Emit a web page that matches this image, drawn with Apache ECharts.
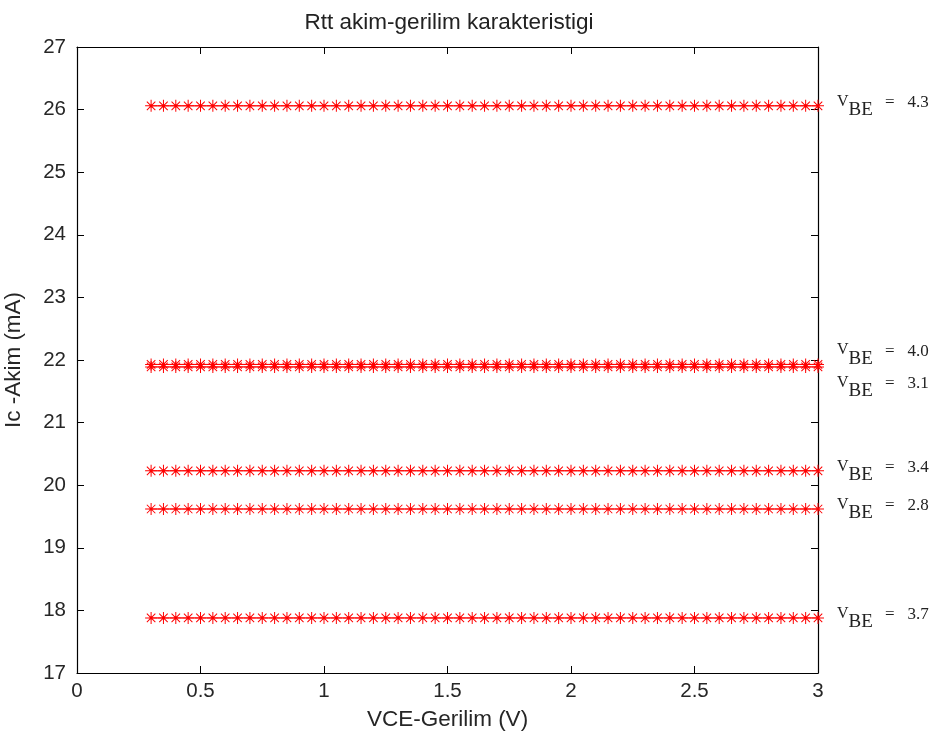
<!DOCTYPE html>
<html>
<head>
<meta charset="utf-8">
<script src="https://cdn.jsdelivr.net/npm/echarts@6/dist/echarts.min.js"></script>
<style>
  html, body { margin: 0; padding: 0; background: #fff; }
  #chart { width: 936px; height: 740px; }
</style>
</head>
<body>
<div id="chart"></div>
<script>
// Collector-emitter voltage samples (V)
const vce = [0.30, 0.35, 0.40, 0.45, 0.50, 0.55, 0.60, 0.65, 0.70, 0.75,
             0.80, 0.85, 0.90, 0.95, 1.00, 1.05, 1.10, 1.15, 1.20, 1.25,
             1.30, 1.35, 1.40, 1.45, 1.50, 1.55, 1.60, 1.65, 1.70, 1.75,
             1.80, 1.85, 1.90, 1.95, 2.00, 2.05, 2.10, 2.15, 2.20, 2.25,
             2.30, 2.35, 2.40, 2.45, 2.50, 2.55, 2.60, 2.65, 2.70, 2.75,
             2.80, 2.85, 2.90, 2.95, 3.00];
// Base-emitter voltage of each curve and its measured collector current (mA)
const vbe = ['4.3', '4.0', '3.1', '3.4', '2.8', '3.7'];
const ic  = [26.06, 21.93, 21.89, 20.23, 19.62, 17.88];
// Vertical nudge of each curve label (px), so the two coincident curves stay readable
const labelShift = [0, -10, 20, 0, 0, 0];

const xTicks = { min: 0, max: 3, interval: 0.5 };
const yTicks = { min: 17, max: 27, interval: 1 };

const red = '#ff0000';
// Asterisk marker: a plus and a cross made of thin bars, with a small hub
const star = 'path://M-0.5,-6 L0.5,-6 L0.5,6 L-0.5,6 Z M-6,-0.5 L6,-0.5 L6,0.5 L-6,0.5 Z ' +
             'M-4.6,-3.9 L-3.9,-4.6 L4.6,3.9 L3.9,4.6 Z M3.9,-4.6 L4.6,-3.9 L-3.9,4.6 L-4.6,3.9 Z ' +
             'M-1.6,-1.6 L1.6,-1.6 L1.6,1.6 L-1.6,1.6 Z';

const serif = 'Liberation Serif';
const series = vbe.map((v, i) => ({
  type: 'line',
  name: 'VBE ' + v,
  data: vce.map(x => [x, ic[i]]),
  symbol: star,
  symbolSize: 12,
  showAllSymbol: true,
  itemStyle: { color: red },
  lineStyle: { color: red, width: 1 },
  animation: false,
  z: 3,
  endLabel: {
    show: true,
    distance: 19,
    offset: [0, labelShift[i]],
    formatter: '{v|V}{sub|BE}{eq| =   ' + v + '}',
    rich: {
      v:   { fontFamily: serif, fontSize: 16, color: '#222', padding: [0, 0, 9, 0] },
      sub: { fontFamily: serif, fontSize: 19, color: '#222', padding: [9, 0, 0, 0] },
      eq:  { fontFamily: serif, fontSize: 17, color: '#222', padding: [0, 0, 6, 8] }
    }
  }
}));

const axisText = { fontFamily: 'Liberation Sans', fontSize: 20.5, color: '#262626' };
const nameText = { fontFamily: 'Liberation Sans', fontSize: 22.5, color: '#262626' };
const lineDark = { lineStyle: { color: '#000', width: 1.2 } };

const chart = echarts.init(document.getElementById('chart'), null, { renderer: 'canvas' });
chart.setOption({
  backgroundColor: '#ffffff',
  animation: false,
  title: {
    text: 'Rtt akim-gerilim karakteristigi',
    left: 444, top: 6, textAlign: 'center',
    textStyle: { fontFamily: 'Liberation Sans', fontSize: 22.5, fontWeight: 'normal', color: '#222' }
  },
  grid: { left: 77, right: 118, top: 47, bottom: 67, containLabel: false, outerBoundsMode: 'none' },
  xAxis: [
    {
      type: 'value', position: 'bottom', ...xTicks,
      name: 'VCE-Gerilim (V)', nameLocation: 'middle', nameGap: 35,
      nameTextStyle: nameText,
      axisLine: { show: true, onZero: false, ...lineDark },
      axisTick: { show: true, inside: true, length: 7, lineStyle: { color: '#000' } },
      axisLabel: { ...axisText, margin: 8, formatter: v => String(v) },
      splitLine: { show: false }
    },
    {
      type: 'value', position: 'top', ...xTicks,
      axisLine: { show: true, onZero: false, ...lineDark },
      axisTick: { show: true, inside: true, length: 7, lineStyle: { color: '#000' } },
      axisLabel: { show: false },
      splitLine: { show: false }
    }
  ],
  yAxis: [
    {
      type: 'value', position: 'left', ...yTicks,
      name: 'Ic -Akim (mA)', nameLocation: 'middle', nameGap: 52, nameRotate: 90,
      nameTextStyle: nameText,
      axisLine: { show: true, onZero: false, ...lineDark },
      axisTick: { show: true, inside: true, length: 7, lineStyle: { color: '#000' } },
      axisLabel: { ...axisText, margin: 11 },
      splitLine: { show: false }
    },
    {
      type: 'value', position: 'right', ...yTicks,
      axisLine: { show: true, onZero: false, ...lineDark },
      axisTick: { show: true, inside: true, length: 7, lineStyle: { color: '#000' } },
      axisLabel: { show: false },
      splitLine: { show: false }
    }
  ],
  series: series
});
</script>
</body>
</html>
